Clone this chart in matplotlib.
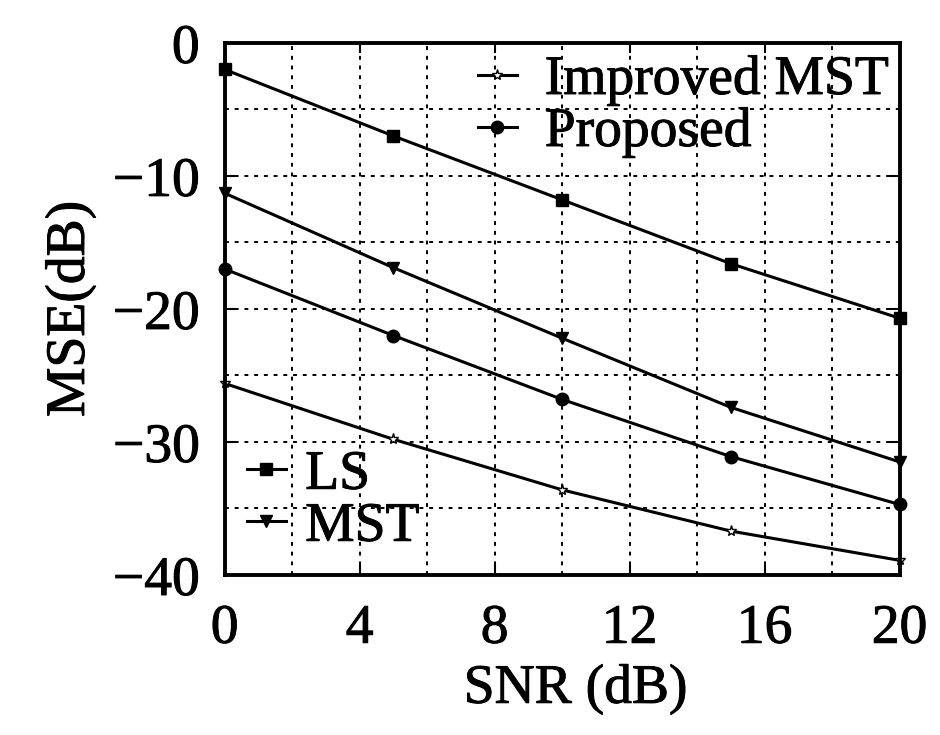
import numpy as np
import matplotlib.pyplot as plt
import matplotlib.patheffects as pe

snr = [0, 5, 10, 15, 20]
mse_ls = [-2.0, -7.0, -11.8, -16.6, -20.7]
mse_mst = [-11.3, -16.9, -22.2, -27.4, -31.5]
mse_prop = [-17.0, -22.0, -26.8, -31.1, -34.7]
mse_imst = [-25.6, -29.8, -33.6, -36.7, -38.9]

xticks = [0, 4, 8, 12, 16, 20]
yticks = [0, -10, -20, -30, -40]

plt.rcParams['font.family'] = ['Liberation Serif', 'DejaVu Serif']
fs = 40
thick = [pe.withStroke(linewidth=0.7, foreground='black')]

fig = plt.figure(figsize=(9.4, 7.35), dpi=100)
ax = fig.add_axes([0.239, 0.2177, 0.718, 0.724])

l1, = ax.plot(snr, mse_ls, color='black', lw=2.2, marker='s', ms=9, mfc='black', clip_on=False)
l2, = ax.plot(snr, mse_mst, color='black', lw=2.2, marker='v', ms=9, mfc='black', clip_on=False)
l3, = ax.plot(snr, mse_imst, color='black', lw=2.2, marker='*', ms=8, mfc='white', clip_on=False)
l4, = ax.plot(snr, mse_prop, color='black', lw=2.2, marker='o', ms=9, mfc='black', clip_on=False)

ax.set_xlim(0, 20)
ax.set_ylim(-40, 0)
ax.set_xticks(xticks)
ax.set_xticks(np.arange(0, 21, 2), minor=True)
ax.set_yticks(yticks)
ax.set_yticks(np.arange(-40, 1, 5), minor=True)
ax.set_yticklabels(['0', '\u221210', '\u221220', '\u221230', '\u221240'])
ax.grid(True, which='both', color='black', linestyle=(0, (2, 3)), linewidth=1.4)
ax.tick_params(which='both', direction='in', top=True, right=True, labelsize=fs, width=1.5)
ax.tick_params(which='major', length=7)
ax.tick_params(axis='x', which='major', pad=20)
ax.tick_params(axis='y', which='major', pad=18)
ax.tick_params(which='minor', length=0)
for s in ax.spines.values():
    s.set_linewidth(2.8)

ax.set_xlabel('SNR (dB)', fontsize=fs, labelpad=6)
ax.xaxis.set_label_coords(0.52, -0.165)
ax.set_ylabel('MSE(dB)', fontsize=fs, labelpad=12)

leg1 = ax.legend([l3, l4], ['Improved MST', 'Proposed'], loc='upper right', frameon=False,
                 fontsize=fs, handlelength=0.7, handletextpad=0.5, borderaxespad=0.0,
                 labelspacing=0.0, borderpad=0.2)
ax.add_artist(leg1)
leg2 = ax.legend([l1, l2], ['LS', 'MST'], loc='lower left', frameon=False,
                 fontsize=fs, handlelength=0.7, handletextpad=0.35, borderaxespad=0.2,
                 labelspacing=0.0, borderpad=0.2)

for t in ax.get_xticklabels() + ax.get_yticklabels() + leg1.get_texts() + leg2.get_texts():
    t.set_path_effects(thick)
ax.xaxis.label.set_path_effects(thick)
ax.yaxis.label.set_path_effects(thick)

fig.savefig('out.png', dpi=100)
